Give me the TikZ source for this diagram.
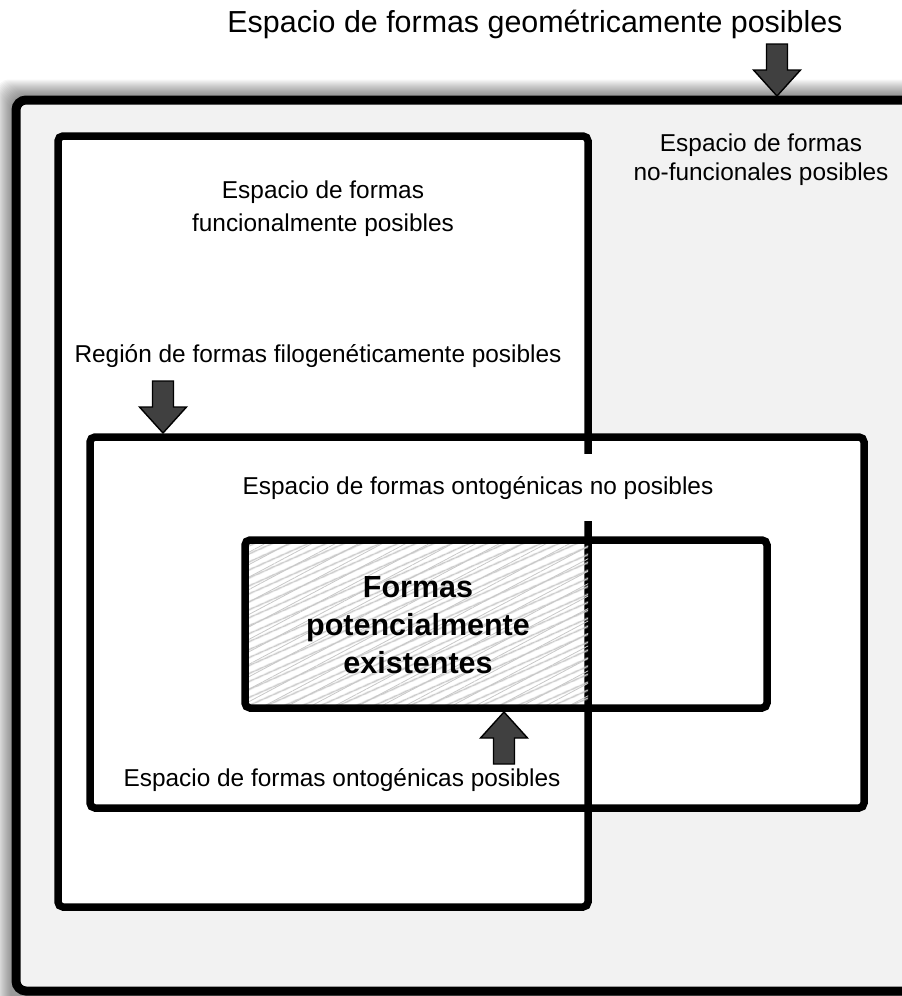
\documentclass[tikz,border=0pt]{standalone}
\usepackage{fontspec}
\setmainfont{Liberation Sans}
\usetikzlibrary{patterns.meta}
\definecolor{spacegray}{HTML}{F2F2F2}
\definecolor{arrowgray}{HTML}{404040}
\definecolor{hatchgray}{HTML}{C8C8C8}
\begin{document}
\begin{tikzpicture}[x=1pt,y=-1pt,
  boxline/.style={line width=7.5pt, rounded corners=5pt},
  txt/.style={font=\fontsize{24.4}{29}\selectfont, inner sep=0pt},
  pics/blockarrow/.style={code={
    \draw[fill=arrowgray, line width=1.4pt, line join=miter]
      (0,0) -- (-23.5,-26) -- (-10.5,-26) -- (-10.5,-52) -- (10.5,-52)
      -- (10.5,-26) -- (23.5,-26) -- cycle;}}]
\useasboundingbox (0,0) rectangle (902,996);

% soft glow around the outer space
\foreach \i in {1,...,16}
  \fill[black, opacity=0.03, rounded corners=14pt]
    (11.5-\i,95.5-\i) rectangle (945,1012);

% space of geometrically possible forms
\draw[line width=9pt, fill=spacegray, rounded corners=10pt]
  (16,100) rectangle (930,991);

% functional and ontogenic regions
\fill[white] (58,136) rectangle (588,907);
\fill[white] (90,437) rectangle (864,808);
\draw[boxline] (58,136) rectangle (588,907);
\draw[boxline] (90,437) rectangle (864,808);

% potentially existing forms (sketchy hatching)
\fill[pattern={Lines[angle=24,distance=6.5pt,line width=1.6pt]}, pattern color=hatchgray]
  (245,540) rectangle (588,708);
\fill[pattern={Lines[angle=28,distance=11pt,line width=0.8pt]}, pattern color=hatchgray]
  (245,540) rectangle (588,708);
\draw[boxline] (245,540) rectangle (767,708);

% block arrows
\pic at (777,96) {blockarrow};
\pic at (163,433) {blockarrow};
\pic[rotate=180] at (504,712) {blockarrow};

% labels
\node[txt, anchor=base, font=\fontsize{30.4}{36}\selectfont] (title) at (535,32)
  {Espacio de formas geométricamente posibles};
\node[txt, align=center, font=\fontsize{24.4}{29}\selectfont] (nofunc) at (761,160)
  {Espacio de formas\\no-funcionales posibles};
\node[txt, align=center, font=\fontsize{24.4}{33}\selectfont] (func) at (323,209)
  {Espacio de formas\\funcionalmente posibles};
\node[txt, anchor=base] (filo) at (318,362)
  {Región de formas filogenéticamente posibles};
\node[txt, anchor=base, fill=white, inner xsep=2pt, inner ysep=22pt] (ontono) at (478,494)
  {Espacio de formas ontogénicas no posibles};
\node[txt, anchor=base] (ontosi) at (342,786)
  {Espacio de formas ontogénicas posibles};
\node[txt, align=center, font=\bfseries\fontsize{30.5}{38}\selectfont] (exist) at (418,625)
  {Formas\\potencialmente\\existentes};
\end{tikzpicture}
\end{document}
